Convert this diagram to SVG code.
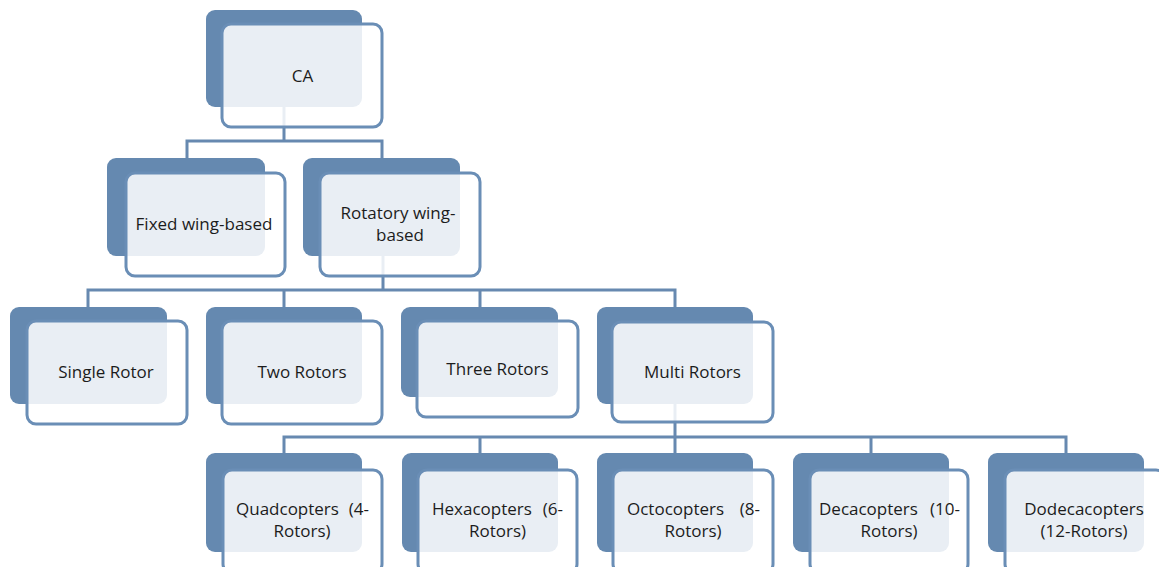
<svg xmlns="http://www.w3.org/2000/svg" width="1159" height="567" viewBox="0 0 1159 567">
<style>
.back{fill:#6589b0}
.front{fill:#ffffff;fill-opacity:0.86;stroke:#6a8eb6;stroke-width:3}
.conn{fill:none;stroke:#6789b0;stroke-width:3}
text{font-family:"Open Sans","Liberation Sans",sans-serif;font-size:17px;fill:#1c1c1c}
.c{text-anchor:middle}
.e{text-anchor:end}
</style>
<rect width="1159" height="567" fill="#ffffff"/>
<g id="connectors">
<path class="conn" d="M284,107 V141 M187,158 V141 H382 V158"/>
<path class="conn" d="M383,256 V290 M88,307 V290 H675 V307 M284,290 V307 M480,290 V307"/>
<path class="conn" d="M675,404 V437 M284,453 V437 H1066 V453 M480,437 V453 M675,437 V453 M871,437 V453"/>
</g>
<g id="n-ca">
<rect class="back" x="206" y="10" width="156" height="97" rx="9"/>
<rect class="front" x="222" y="24" width="160" height="103" rx="9"/>
<text class="c" x="302.5" y="82">CA</text>
</g>
<g id="n-fixed">
<rect class="back" x="107" y="158" width="158" height="98" rx="9"/>
<rect class="front" x="126" y="173" width="159" height="103" rx="9"/>
<text class="c" x="204" y="230">Fixed wing-based</text>
</g>
<g id="n-rotatory">
<rect class="back" x="303" y="158" width="157" height="98" rx="9"/>
<rect class="front" x="320" y="173" width="160" height="103" rx="9"/>
<text class="c" x="398" y="219">Rotatory wing-</text>
<text class="c" x="400" y="241">based</text>
</g>
<g id="n-single">
<rect class="back" x="10" y="307" width="157" height="97" rx="9"/>
<rect class="front" x="27" y="321" width="160" height="103" rx="9"/>
<text class="c" x="106" y="378">Single Rotor</text>
</g>
<g id="n-two">
<rect class="back" x="206" y="307" width="156" height="97" rx="9"/>
<rect class="front" x="222" y="321" width="160" height="103" rx="9"/>
<text class="c" x="302" y="378">Two Rotors</text>
</g>
<g id="n-three">
<rect class="back" x="401" y="307" width="157" height="90" rx="9"/>
<rect class="front" x="417" y="321" width="161" height="96" rx="9"/>
<text class="c" x="497.5" y="375">Three Rotors</text>
</g>
<g id="n-multi">
<rect class="back" x="597" y="307" width="156" height="97" rx="9"/>
<rect class="front" x="612" y="322" width="161" height="100" rx="9"/>
<text class="c" x="692.5" y="378">Multi Rotors</text>
</g>
<g id="n-quad">
<rect class="back" x="206" y="453" width="156" height="99" rx="9"/>
<rect class="front" x="223" y="470" width="159" height="103" rx="9"/>
<text x="236" y="515">Quadcopters</text>
<text class="e" x="369" y="515">(4-</text>
<text class="c" x="302" y="537">Rotors)</text>
</g>
<g id="n-hexa">
<rect class="back" x="402" y="453" width="156" height="99" rx="9"/>
<rect class="front" x="418" y="470" width="159" height="103" rx="9"/>
<text x="432" y="515">Hexacopters</text>
<text class="e" x="563" y="515">(6-</text>
<text class="c" x="497.5" y="537">Rotors)</text>
</g>
<g id="n-octo">
<rect class="back" x="597" y="453" width="156" height="99" rx="9"/>
<rect class="front" x="613" y="470" width="160" height="103" rx="9"/>
<text x="627" y="515">Octocopters</text>
<text class="e" x="760" y="515">(8-</text>
<text class="c" x="693" y="537">Rotors)</text>
</g>
<g id="n-deca">
<rect class="back" x="793" y="453" width="156" height="99" rx="9"/>
<rect class="front" x="810" y="470" width="158" height="103" rx="9"/>
<text x="819" y="515">Decacopters</text>
<text class="e" x="960" y="515">(10-</text>
<text class="c" x="889" y="537">Rotors)</text>
</g>
<g id="n-dodeca">
<rect class="back" x="988" y="453" width="156" height="99" rx="9"/>
<rect class="front" x="1005" y="470" width="160" height="103" rx="9"/>
<text class="c" x="1084" y="515">Dodecacopters</text>
<text class="c" x="1084" y="537">(12-Rotors)</text>
</g>
</svg>
